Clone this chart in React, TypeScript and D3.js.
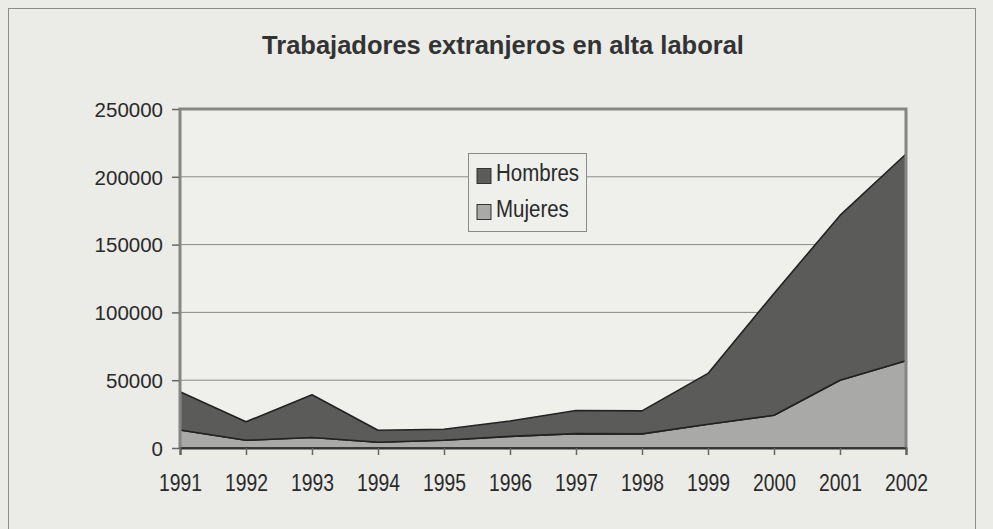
import { useEffect, useRef } from "react";
import * as d3 from "d3";

// Data
const years = ["1991", "1992", "1993", "1994", "1995", "1996", "1997", "1998", "1999", "2000", "2001", "2002"];
const mujeres = [13300, 5700, 7700, 4200, 5700, 8600, 10600, 10400, 17500, 24100, 50000, 64300];
const totales = [41500, 19300, 39300, 13100, 13800, 19900, 27600, 27400, 55000, 114000, 171500, 216800];
const hombres = totales.map((t, i) => t - mujeres[i]);
const yTicks = [0, 50000, 100000, 150000, 200000, 250000];
const seriesNames = ["Mujeres", "Hombres"];
const seriesColors: { [key: string]: string } = { Mujeres: "#a9a9a7", Hombres: "#5b5b5a" };

const W = 993;
const H = 529;
const margin = { left: 180, right: 87, top: 109, bottom: 81 };
const FONT = "'Liberation Sans', Arial, sans-serif";

const App = () => {
    const ref = useRef<SVGSVGElement>(null);

    useEffect(() => {
        const svg = d3.select(ref.current);
        svg.selectAll("*").remove();

        const x = d3
            .scalePoint<string>()
            .domain(years)
            .range([margin.left, W - margin.right]);
        const y = d3
            .scaleLinear()
            .domain([0, 250000])
            .range([H - margin.bottom, margin.top]);

        // page background and outer frame
        svg.append("rect").attr("width", W).attr("height", H).attr("fill", "#ebebe8");
        svg.append("rect")
            .attr("x", 8.5)
            .attr("y", 8.5)
            .attr("width", 967)
            .attr("height", 560)
            .attr("fill", "none")
            .attr("stroke", "#8c8c8a")
            .attr("stroke-width", 1);

        svg.append("text")
            .attr("x", 503)
            .attr("y", 54)
            .attr("text-anchor", "middle")
            .attr("font-family", FONT)
            .attr("font-size", 25.5)
            .attr("font-weight", "bold")
            .attr("fill", "#333")
            .text("Trabajadores extranjeros en alta laboral");

        // plot background
        svg.append("rect")
            .attr("x", margin.left)
            .attr("y", margin.top)
            .attr("width", W - margin.right - margin.left)
            .attr("height", H - margin.bottom - margin.top)
            .attr("fill", "#efefec");

        // gridlines
        svg.append("g")
            .selectAll("line")
            .data(yTicks.filter((t) => t > 0 && t < 250000))
            .enter()
            .append("line")
            .attr("x1", margin.left)
            .attr("x2", W - margin.right)
            .attr("y1", (d) => y(d))
            .attr("y2", (d) => y(d))
            .attr("stroke", "#8a8a88")
            .attr("stroke-width", 1);

        const rows = years.map((yr, i) => ({ year: yr, Mujeres: mujeres[i], Hombres: hombres[i] }));
        const stacked = d3.stack<any>().keys(seriesNames)(rows);

        const area = d3
            .area<any>()
            .x((d) => x(d.data.year) as number)
            .y0((d) => y(d[0]))
            .y1((d) => y(d[1]));

        svg.append("g")
            .selectAll("path")
            .data(stacked)
            .enter()
            .append("path")
            .attr("d", area)
            .attr("fill", (d) => seriesColors[d.key])
            .attr("stroke", "#222")
            .attr("stroke-width", 1.6)
            .attr("stroke-linejoin", "round");

        // plot frame (top, right, left thick gray)
        svg.append("path")
            .attr(
                "d",
                `M${margin.left},${H - margin.bottom}V${margin.top}H${W - margin.right}V${H - margin.bottom}`
            )
            .attr("fill", "none")
            .attr("stroke", "#858583")
            .attr("stroke-width", 3);

        // y axis
        const yAxis = svg
            .append("g")
            .attr("transform", `translate(${margin.left - 1},0)`)
            .call(d3.axisLeft(y).tickValues(yTicks).tickSize(7).tickPadding(9).tickFormat(d3.format("d")));
        yAxis.select(".domain").remove();
        yAxis.selectAll("line").attr("stroke", "#666").attr("stroke-width", 1.5);
        yAxis.selectAll("text")
            .attr("font-family", FONT)
            .attr("font-size", 20.5)
            .attr("fill", "#2a2a2a")
            .attr("dy", "0.36em");

        // x axis (labels are vertically stretched in the original)
        const xAxis = svg
            .append("g")
            .attr("transform", `translate(0,${H - margin.bottom})`)
            .call(d3.axisBottom(x).tickSize(7));
        xAxis.select(".domain").attr("stroke", "#333").attr("stroke-width", 2);
        xAxis.selectAll("line").attr("stroke", "#666").attr("stroke-width", 1.5);
        xAxis.selectAll("text")
            .attr("y", 0)
            .attr("dy", 0)
            .attr("transform", "translate(0,43) scale(1,1.28)")
            .attr("font-family", FONT)
            .attr("font-size", 19.3)
            .attr("fill", "#2a2a2a");

        // legend
        const lg = svg.append("g").attr("transform", "translate(468.5,153.5)");
        lg.append("rect")
            .attr("width", 118)
            .attr("height", 78)
            .attr("fill", "#efefec")
            .attr("stroke", "#8a8a88")
            .attr("stroke-width", 1);
        ["Hombres", "Mujeres"].forEach((name, i) => {
            const top = 15 + i * 36;
            lg.append("rect")
                .attr("x", 8.5)
                .attr("y", top)
                .attr("width", 14)
                .attr("height", 15)
                .attr("fill", seriesColors[name])
                .attr("stroke", "#333")
                .attr("stroke-width", 1);
            lg.append("text")
                .attr("transform", `translate(27.5,${top + 12.5}) scale(1,1.18)`)
                .attr("font-family", FONT)
                .attr("font-size", 20.5)
                .attr("fill", "#2a2a2a")
                .text(name);
        });
    }, []);

    return (
        <svg
            ref={ref}
            width={W}
            height={H}
            style={{ position: "absolute", left: 0, top: 0 }}
        ></svg>
    );
};

export default App;
